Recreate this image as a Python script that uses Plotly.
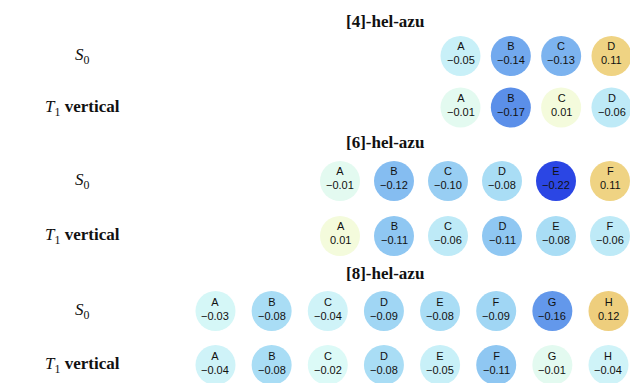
import plotly.graph_objects as go

# ---- data -------------------------------------------------------------
panel_titles = ["[4]-hel-azu", "[6]-hel-azu", "[8]-hel-azu"]
row_labels = ["<i>S</i><sub>0</sub>", "<i>T</i><sub>1</sub> <b>vertical</b>"]

hel4_sites = ["A", "B", "C", "D"]
hel4_s0 = [-0.05, -0.14, -0.13, 0.11]
hel4_t1 = [-0.01, -0.17, 0.01, -0.06]

hel6_sites = ["A", "B", "C", "D", "E", "F"]
hel6_s0 = [-0.01, -0.12, -0.10, -0.08, -0.22, 0.11]
hel6_t1 = [0.01, -0.11, -0.06, -0.11, -0.08, -0.06]

hel8_sites = ["A", "B", "C", "D", "E", "F", "G", "H"]
hel8_s0 = [-0.03, -0.08, -0.04, -0.09, -0.08, -0.09, -0.16, 0.12]
hel8_t1 = [-0.04, -0.08, -0.02, -0.08, -0.05, -0.11, -0.01, -0.04]

panels = [
    (hel4_sites, hel4_s0, hel4_t1),
    (hel6_sites, hel6_s0, hel6_t1),
    (hel8_sites, hel8_s0, hel8_t1),
]

# ---- layout geometry (pixels) ----------------------------------------
W, H = 630, 383
# centre of first / last circle in each panel
x_px = [(460.5, 611.5), (340.0, 610.0), (215.5, 608.5)]
# centre of the S0 row and of the T1 row in each panel
y_px = [(56.0, 107.5), (181.0, 236.0), (311.0, 365.0)]
title_px = [22.0, 142.0, 273.0]
label_x_px = 82.0

CMIN, CMAX = -0.22, 0.22
colorscale = [
    [0.000, "#2b46e4"],
    [0.114, "#5b8fe9"],
    [0.182, "#72a9ee"],
    [0.250, "#8fc7f2"],
    [0.318, "#a9ddf5"],
    [0.386, "#c8f0f8"],
    [0.455, "#dcfaf7"],
    [0.500, "#ebfbe8"],
    [0.523, "#f4fbdc"],
    [0.750, "#efd383"],
    [1.000, "#e0a040"],
]

CELL_FONT = dict(family="Liberation Sans, Arial", size=11, color="#111")
SERIF_FONT = dict(family="Liberation Serif, DejaVu Serif", size=17, color="#111")


def fmt(v):
    return f"{v:.2f}".replace("-", "\u2212")


fig = go.Figure()
annotations = []

for k, (sites, s0, t1) in enumerate(panels):
    n = len(sites)
    ax = "" if k == 0 else str(k + 1)
    (px0, px1) = x_px[k]
    step = (px1 - px0) / (n - 1)
    x_lo, x_hi = -0.5, n - 1 + min(0.5, (W - px1) / step - 0.01)
    x_dom = [(px0 + x_lo * step) / W, (px0 + x_hi * step) / W]

    (py_s0, py_t1) = y_px[k]
    ystep = py_t1 - py_s0
    y_lo = -min(0.5, (H - py_t1) / ystep - 0.01)
    y_hi = 1.5
    # value 1 -> S0 row, value 0 -> T1 row
    top_px = py_t1 - y_hi * ystep
    bot_px = py_t1 - y_lo * ystep
    y_dom = [1 - bot_px / H, 1 - top_px / H]

    fig.update_layout({
        f"xaxis{ax}": dict(domain=x_dom, range=[x_lo, x_hi], visible=False,
                           anchor=f"y{ax}", fixedrange=True),
        f"yaxis{ax}": dict(domain=y_dom, range=[y_lo, y_hi], visible=False,
                           anchor=f"x{ax}", fixedrange=True),
    })

    idx = list(range(n))
    for row_val, vals in ((1, s0), (0, t1)):
        fig.add_trace(go.Scatter(
            x=idx, y=[row_val] * n, mode="markers",
            xaxis=f"x{ax}", yaxis=f"y{ax}",
            cliponaxis=False, hoverinfo="skip", showlegend=False,
            marker=dict(size=40, color=vals, colorscale=colorscale,
                        cmin=CMIN, cmax=CMAX, line=dict(width=0)),
        ))
        for i, (lab, v) in enumerate(zip(sites, vals)):
            annotations.append(dict(
                x=i, y=row_val, xref=f"x{ax}", yref=f"y{ax}",
                text=f"{lab}<br>{fmt(v)}",
                showarrow=False, yshift=2.5, xanchor="center", yanchor="middle",
                font=CELL_FONT,
            ))
        annotations.append(dict(
            x=label_x_px / W, xref="paper", y=row_val, yref=f"y{ax}",
            text=row_labels[1 - row_val], showarrow=False,
            xanchor="center", yanchor="middle", font=SERIF_FONT,
        ))

    annotations.append(dict(
        x=385 / W, xref="paper", y=1 - title_px[k] / H, yref="paper",
        text=f"<b>{panel_titles[k]}</b>", showarrow=False,
        xanchor="center", yanchor="middle", font=SERIF_FONT,
    ))

fig.update_layout(
    width=W, height=H,
    margin=dict(l=0, r=0, t=0, b=0),
    paper_bgcolor="white", plot_bgcolor="white",
    annotations=annotations,
)

fig.write_html("out.html")
